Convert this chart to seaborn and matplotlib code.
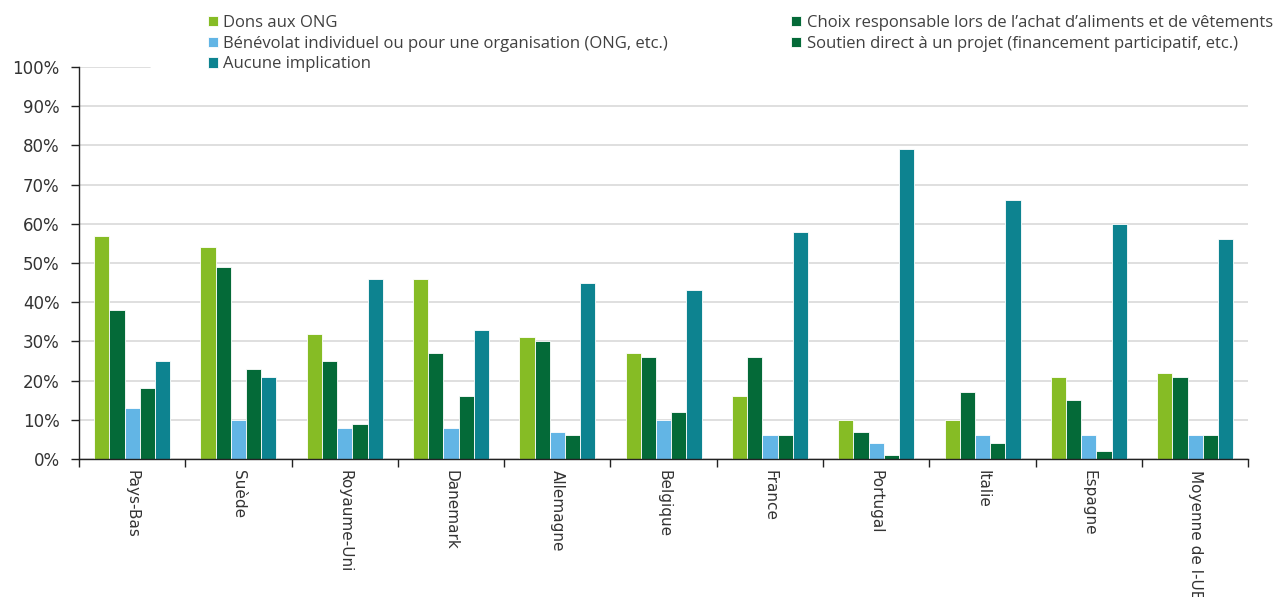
import matplotlib
matplotlib.use("Agg")
import matplotlib.pyplot as plt
import seaborn as sns
import pandas as pd
from matplotlib.ticker import FixedLocator, FuncFormatter

pays = ["Pays-Bas", "Suède", "Royaume-Uni", "Danemark", "Allemagne", "Belgique",
        "France", "Portugal", "Italie", "Espagne", "Moyenne de l-UE"]

series = [
    "Dons aux ONG",
    "Choix responsable lors de l’achat d’aliments et de vêtements",
    "Bénévolat individuel ou pour une organisation (ONG, etc.)",
    "Soutien direct à un projet (financement participatif, etc.)",
    "Aucune implication",
]

dons = [57, 54, 32, 46, 31, 27, 16, 10, 10, 21, 22]
choix = [38, 49, 25, 27, 30, 26, 26, 7, 17, 15, 21]
benevolat = [13, 10, 8, 8, 7, 10, 6, 4, 6, 6, 6]
soutien = [18, 23, 9, 16, 6, 12, 6, 1, 4, 2, 6]
aucune = [25, 21, 46, 33, 45, 43, 58, 79, 66, 60, 56]

couleurs = ["#86BC25", "#046A38", "#62B5E5", "#046A38", "#0D8390"]

rows = []
for serie, vals in zip(series, [dons, choix, benevolat, soutien, aucune]):
    for p, v in zip(pays, vals):
        rows.append({"pays": p, "serie": serie, "valeur": v})
df = pd.DataFrame(rows)

sns.set_style("white")
plt.rcParams["font.family"] = ["DejaVu Sans"]

fig = plt.figure(figsize=(12.74, 5.97), dpi=100)
ax = fig.add_axes([0.062, 0.2312, 0.9178, 0.6566])

sns.barplot(data=df, x="pays", y="valeur", hue="serie", order=pays, hue_order=series,
            palette=couleurs, saturation=1, width=0.715, ax=ax,
            edgecolor="white", linewidth=0.6, errorbar=None, legend=True)

ax.set_ylim(0, 100)
ax.set_xlim(-0.5, len(pays) - 0.5)
ax.yaxis.set_major_locator(FixedLocator(range(0, 101, 10)))
ax.yaxis.set_major_formatter(FuncFormatter(lambda v, _: f"{int(v)}%"))
ax.grid(axis="y", color="#d9d9d9", linewidth=1.2)
ax.set_axisbelow(True)

# the legend box hides most of the top gridline
ax.get_ygridlines()[-1].set_visible(False)
ax.axhline(100, xmin=0, xmax=0.061, color="#d9d9d9", linewidth=1.2, zorder=0.5)

for s in ["top", "right"]:
    ax.spines[s].set_visible(False)
for s in ["left", "bottom"]:
    ax.spines[s].set_color("#222222")
    ax.spines[s].set_linewidth(1.0)

ax.tick_params(axis="y", which="major", left=True, length=6, width=1, color="#222222",
               labelsize=12, labelcolor="#333333", pad=8)
ax.set_xticks(range(len(pays)))
ax.set_xticklabels(pays, rotation=-90, ha="center", va="top", fontsize=11, color="#333333")
ax.tick_params(axis="x", which="major", length=0, pad=8)
ax.set_xticks([i - 0.5 for i in range(len(pays) + 1)], minor=True)
ax.tick_params(axis="x", which="minor", bottom=True, length=6, width=1, color="#222222")
ax.set_xlabel("")
ax.set_ylabel("")

handles, labels = ax.get_legend_handles_labels()
ordre = [0, 2, 4, 1, 3]
ax.legend([handles[i] for i in ordre], [labels[i] for i in ordre], ncol=2,
          loc="upper left", bbox_to_anchor=(0.1014, 1.158),
          frameon=True, facecolor="white", edgecolor="white", framealpha=1,
          prop={"family": "Open Sans", "size": 12}, handlelength=0.6, handleheight=0.6,
          handletextpad=0.33, columnspacing=7.4, labelspacing=0.28, borderpad=0.1,
          labelcolor="#404040")

fig.savefig("out.png", dpi=100)
